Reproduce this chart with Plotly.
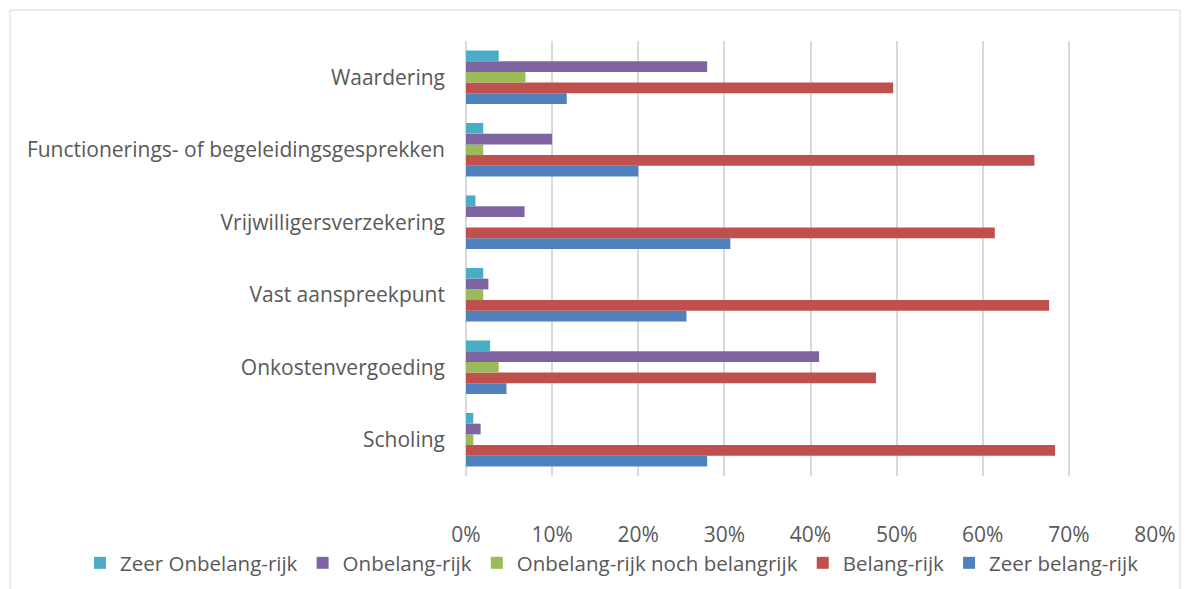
import plotly.graph_objects as go

categories = ["Scholing", "Onkostenvergoeding", "Vast aanspreekpunt",
              "Vrijwilligersverzekering", "Functionerings- of begeleidingsgesprekken",
              "Waardering"]

zeer_onbelangrijk = [0.0085, 0.028, 0.020, 0.011, 0.020, 0.038]
onbelangrijk = [0.017, 0.410, 0.026, 0.068, 0.100, 0.280]
neutraal = [0.0085, 0.038, 0.020, 0.0, 0.020, 0.069]
belangrijk = [0.684, 0.476, 0.677, 0.614, 0.660, 0.496]
zeer_belangrijk = [0.280, 0.047, 0.256, 0.307, 0.200, 0.117]

series = [
    ("Zeer belang-rijk", zeer_belangrijk, "#4F81BD"),
    ("Belang-rijk", belangrijk, "#C0504D"),
    ("Onbelang-rijk noch belangrijk", neutraal, "#9BBB59"),
    ("Onbelang-rijk", onbelangrijk, "#8064A2"),
    ("Zeer Onbelang-rijk", zeer_onbelangrijk, "#4BACC6"),
]

font = "Open Sans, Noto Sans, sans-serif"
txt = "#595959"

fig = go.Figure()
for name, vals, col in series:
    fig.add_trace(go.Bar(
        y=categories, x=vals, name=name, orientation="h",
        marker=dict(color=col, line=dict(width=0)),
    ))

W, H = 1190, 589
L, R, T, B = 466, 35, 41, 113
pw = W - L - R
ph = H - T - B

fig.update_layout(
    width=W, height=H,
    barmode="group", bargap=0.26, bargroupgap=0,
    paper_bgcolor="white", plot_bgcolor="white",
    margin=dict(l=L, r=R, t=T, b=B, pad=0, autoexpand=False),
    font=dict(family=font, size=21, color=txt),
    legend=dict(orientation="h", traceorder="reversed",
                x=(80 - L) / pw, xanchor="left",
                y=-(563 - (T + ph)) / ph, yanchor="middle",
                font=dict(size=20.5, color=txt),
                itemwidth=30, bgcolor="rgba(0,0,0,0)"),
    xaxis=dict(range=[0, 0.8], tickformat=".0%", dtick=0.1,
               showgrid=True, gridcolor="#D9D9D9", gridwidth=2,
               zeroline=True, zerolinecolor="#D9D9D9", zerolinewidth=2,
               showline=False, ticks="", ticklabelstandoff=44,
               tickfont=dict(size=21, color=txt)),
    yaxis=dict(showgrid=False, zeroline=False, showline=False, ticks="",
               ticklabelstandoff=20, tickfont=dict(size=21, color=txt)),
    shapes=[dict(type="rect", xref="paper", yref="paper",
                 x0=(10 - L) / pw, x1=(1180 - L) / pw,
                 y0=-(610 - (T + ph)) / ph, y1=((T + ph) - 10) / ph,
                 line=dict(color="#D9D9D9", width=1), layer="below")],
)

fig.write_html("out.html", config={"displayModeBar": False},
               post_script="document.body.style.margin='0';")
